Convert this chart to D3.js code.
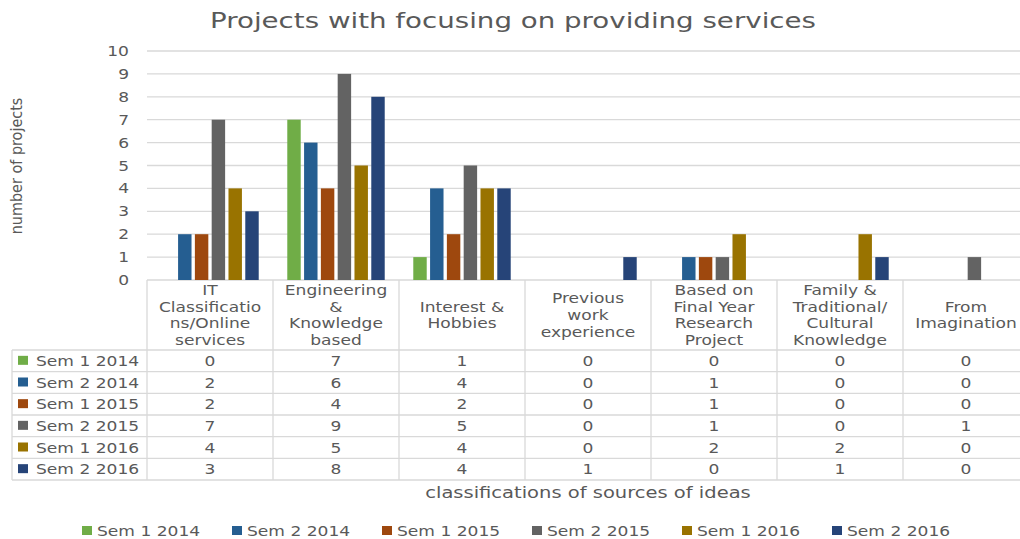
<!DOCTYPE html>
<html lang="en">
<head>
    <meta charset="UTF-8">
    <title>Projects with focusing on providing services</title>
    <script src="https://d3js.org/d3.v7.min.js"></script>
    <style>
        body { margin: 0; background: #fff; }
        text { font-family: "DejaVu Sans", Verdana, sans-serif; fill: #595959; }
        .grid { stroke: #d9d9d9; stroke-width: 1.3; }
        .cell { stroke: #d9d9d9; stroke-width: 1.3; fill: none; }
    </style>
</head>
<body>
    <svg id="chart" width="1020" height="539"></svg>
    <script>
        // categories (header lines of the data table)
        const categories = [
            "IT\nClassificatio\nns/Online\nservices",
            "Engineering\n&\nKnowledge\nbased",
            "Interest &\nHobbies",
            "Previous\nwork\nexperience",
            "Based on\nFinal Year\nResearch\nProject",
            "Family &\nTraditional/\nCultural\nKnowledge",
            "From\nImagination"
        ];
        const seriesNames = ["Sem 1 2014", "Sem 2 2014", "Sem 1 2015", "Sem 2 2015", "Sem 1 2016", "Sem 2 2016"];
        const sem1_2014 = [0, 7, 1, 0, 0, 0, 0];
        const sem2_2014 = [2, 6, 4, 0, 1, 0, 0];
        const sem1_2015 = [2, 4, 2, 0, 1, 0, 0];
        const sem2_2015 = [7, 9, 5, 0, 1, 0, 1];
        const sem1_2016 = [4, 5, 4, 0, 2, 2, 0];
        const sem2_2016 = [3, 8, 4, 1, 0, 1, 0];
        const yTicks = [0, 1, 2, 3, 4, 5, 6, 7, 8, 9, 10];
        const colors = ["#70ad47", "#255e91", "#9e480e", "#636363", "#997300", "#264478"];

        const values = [sem1_2014, sem2_2014, sem1_2015, sem2_2015, sem1_2016, sem2_2016];

        const svg = d3.select("#chart");
        const SX = 1.22; // text in the picture is stretched sideways

        function label(g, x, y, str, size, anchor, sx) {
            return g.append("text")
                .attr("transform", `translate(${x},${y}) scale(${sx || SX},1)`)
                .attr("text-anchor", anchor || "middle")
                .attr("font-size", size)
                .text(str);
        }

        const plotLeft = 147, plotRight = 1029, plotTop = 51, plotBottom = 280;

        const x0 = d3.scaleBand()
            .domain(d3.range(categories.length))
            .range([plotLeft, plotRight])
            .paddingInner(0.2)
            .paddingOuter(0.1);
        const x1 = d3.scaleBand()
            .domain(d3.range(seriesNames.length))
            .range([0, x0.bandwidth()])
            .paddingInner(0.2)
            .paddingOuter(0.1);
        const y = d3.scaleLinear().domain([0, 10]).range([plotBottom, plotTop]);

        // gridlines
        svg.append("g").selectAll("line")
            .data(yTicks)
            .enter().append("line")
            .attr("class", "grid")
            .attr("x1", plotLeft).attr("x2", 1020)
            .attr("y1", d => y(d)).attr("y2", d => y(d));

        // y tick labels
        const yAxis = svg.append("g");
        yTicks.forEach(t => label(yAxis, 129, y(t) + 5, String(t), 14, "end"));

        // bars
        const groups = svg.append("g").selectAll("g")
            .data(categories.map((c, i) => i))
            .enter().append("g")
            .attr("transform", i => `translate(${x0(i)},0)`);
        groups.selectAll("rect")
            .data(i => values.map((s, k) => ({ k, v: s[i] })))
            .enter().append("rect")
            .attr("x", d => x1(d.k))
            .attr("width", x1.bandwidth())
            .attr("y", d => y(d.v))
            .attr("height", d => plotBottom - y(d.v))
            .attr("fill", d => colors[d.k]);

        // data table
        const step = x0.step();
        const headerBottom = 350, tableBottom = 480, tableLeft = 12;
        const rowY = d3.scaleBand().domain(d3.range(seriesNames.length)).range([headerBottom, tableBottom]);
        const table = svg.append("g");

        // horizontal lines
        d3.range(seriesNames.length + 1).forEach(r => {
            const yy = headerBottom + r * rowY.step();
            table.append("line").attr("class", "cell")
                .attr("x1", tableLeft).attr("x2", 1020).attr("y1", yy).attr("y2", yy);
        });
        // vertical lines
        d3.range(categories.length + 1).forEach(c => {
            const xx = plotLeft + c * step;
            table.append("line").attr("class", "cell")
                .attr("x1", xx).attr("x2", xx).attr("y1", plotBottom).attr("y2", tableBottom);
        });
        table.append("line").attr("class", "cell")
            .attr("x1", tableLeft).attr("x2", tableLeft).attr("y1", headerBottom).attr("y2", tableBottom);

        // header text
        const lineH = 16.6;
        categories.forEach((c, i) => {
            const lines = c.split("\n");
            const cx = plotLeft + (i + 0.5) * step;
            const midY = (plotBottom + headerBottom) / 2;
            lines.forEach((ln, j) => {
                const yy = midY + (j - (lines.length - 1) / 2) * lineH + 5;
                label(table, cx, yy, ln, 14);
            });
        });

        // rows
        seriesNames.forEach((s, r) => {
            const cy = rowY(r) + rowY.bandwidth() / 2;
            table.append("rect")
                .attr("x", 18).attr("y", cy - 5).attr("width", 10).attr("height", 9)
                .attr("fill", colors[r]);
            label(table, 36, cy + 5, s, 14, "start");
            values[r].forEach((v, i) => {
                label(table, plotLeft + (i + 0.5) * step, cy + 5, String(v), 14);
            });
        });

        // title
        label(svg, 513, 28, "Projects with focusing on providing services", 20.5, "middle", 1.35);

        // y axis title
        svg.append("text")
            .attr("transform", "translate(22,166) rotate(-90)")
            .attr("text-anchor", "middle")
            .attr("font-size", 16)
            .style("font-family", "'Liberation Sans Narrow', 'DejaVu Sans Condensed', sans-serif")
            .text("number of projects");

        // x axis title
        label(svg, 588, 498, "classifications of sources of ideas", 16);

        // legend
        const legend = svg.append("g");
        seriesNames.forEach((s, i) => {
            const lx = 82 + i * 150;
            legend.append("rect")
                .attr("x", lx).attr("y", 526).attr("width", 10).attr("height", 9)
                .attr("fill", colors[i]);
            label(legend, lx + 15, 536, s, 14, "start");
        });
    </script>
</body>
</html>
